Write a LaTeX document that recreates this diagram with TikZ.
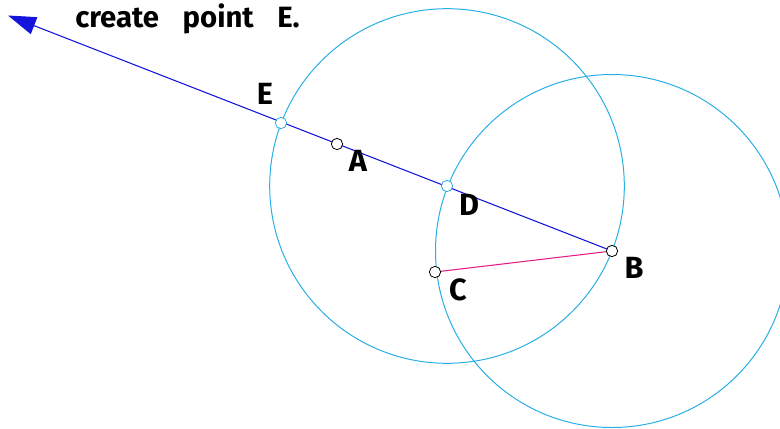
\documentclass[tikz,border=0pt]{standalone}
\usepackage{fontspec}
\setmainfont{Fira Sans}
\usetikzlibrary{arrows.meta}
\definecolor{cblue}{RGB}{20,20,220}
\definecolor{ccyan}{RGB}{40,175,230}
\definecolor{cpink}{RGB}{230,30,130}
\tikzset{
  pt/.style={circle,draw=black,fill=white,inner sep=0pt,minimum size=8.5pt,line width=0.6pt},
  cpt/.style={pt,draw=ccyan},
  lbl/.style={font=\fontsize{23}{23}\selectfont\bfseries,text=black,inner sep=0pt},
  cir/.style={draw=ccyan,line width=0.75pt},
}
\begin{document}
\begin{tikzpicture}[x=0.75pt,y=-0.75pt]
\useasboundingbox (0,0) rectangle (780,428);
\coordinate (tip) at (8,15.5);
\coordinate (Dc) at (447,186);
\coordinate (Bc) at (612,251);
\draw[cir] (Dc) circle (177.3*0.75pt);
\draw[cir] (Bc) circle (176.5*0.75pt);
\draw[cblue,line width=0.8pt,-{Triangle[length=21pt,width=13.5pt]}] (Bc) -- (tip);
\draw[cpink,line width=0.8pt] (435,272) -- (Bc);
\node[cpt] (E) at (281,123) {};
\node[pt] (A) at (337,144) {};
\node[cpt] (D) at (447,186) {};
\node[pt] (B) at (612,251) {};
\node[pt] (C) at (435,272) {};
\node[lbl] (lE) at (265,94) {E};
\node[lbl] (lA) at (358,161) {A};
\node[lbl] (lD) at (469,205) {D};
\node[lbl] (lB) at (634,268) {B};
\node[lbl] (lC) at (458,290) {C};
\node[font=\fontsize{22}{22}\selectfont\bfseries,anchor=west,inner sep=0pt] (title) at (75,19) {create\hspace{0.8em}point\hspace{0.8em}E.};
\end{tikzpicture}
\end{document}
